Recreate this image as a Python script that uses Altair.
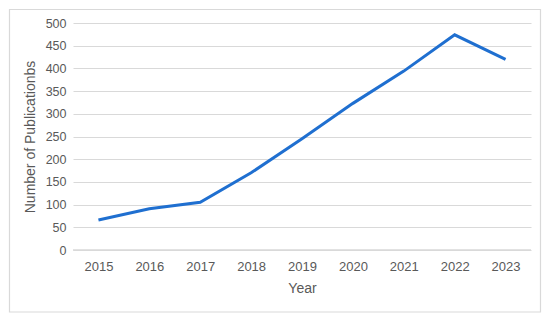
import altair as alt
import pandas as pd

years = ["2015", "2016", "2017", "2018", "2019", "2020", "2021", "2022", "2023"]
publications = [66, 91, 105, 170, 245, 323, 394, 474, 420]
y_ticks = [0, 50, 100, 150, 200, 250, 300, 350, 400, 450, 500]

df = pd.DataFrame({"Year": years, "Publications": publications})

FONT = "Liberation Sans"
TEXT = "#595959"
GRID = "#d9d9d9"

W, H = 458, 227
PAD_L, PAD_T = 65, 15

border = alt.Chart(pd.DataFrame({"a": [0]})).mark_rect(
    fill=None, stroke=GRID, strokeWidth=1.2
).encode(
    x=alt.value(-PAD_L + 1.5),
    x2=alt.value(W + 9.5),
    y=alt.value(-PAD_T + 1.5),
    y2=alt.value(H + 62),
)

line = alt.Chart(df).mark_line(color="#1f6fd0", strokeWidth=3).encode(
    x=alt.X(
        "Year:O",
        sort=years,
        scale=alt.Scale(type="point", padding=0.5),
        axis=alt.Axis(
            title="Year",
            labelAngle=0,
            ticks=False,
            domain=False,
            grid=False,
            labelPadding=16,
            labelBaseline="middle",
            labelFontSize=13,
            titleY=38,
            titleBaseline="middle",
        ),
    ),
    y=alt.Y(
        "Publications:Q",
        scale=alt.Scale(domain=[0, 500], nice=False),
        axis=alt.Axis(
            title="Number of Publicationbs",
            values=y_ticks,
            ticks=False,
            domain=False,
            gridColor=GRID,
            gridWidth=1.2,
            labelPadding=7,
            labelFontSize=12.5,
            titleX=-43,
            titleY=H / 2,
            titleAngle=-90,
            titleAlign="center",
            titleBaseline="middle",
        ),
    ),
)

baseline = alt.Chart(pd.DataFrame({"a": [0]})).mark_rule(
    color=GRID, strokeWidth=1.5
).encode(x=alt.value(0), x2=alt.value(W), y=alt.value(H))

chart = alt.layer(border, baseline, line).properties(
    width=W,
    height=H,
    autosize=alt.AutoSizeParams(type="none"),
    padding={"left": PAD_L, "top": PAD_T, "right": 534 - PAD_L - W, "bottom": 306 - PAD_T - H},
).configure_view(stroke=None).configure_axis(
    labelFont=FONT,
    titleFont=FONT,
    titleFontSize=14,
    labelColor=TEXT,
    titleColor=TEXT,
    titleFontWeight="normal",
)

chart.save("out.html", embed_options={"renderer": "svg", "actions": False})
